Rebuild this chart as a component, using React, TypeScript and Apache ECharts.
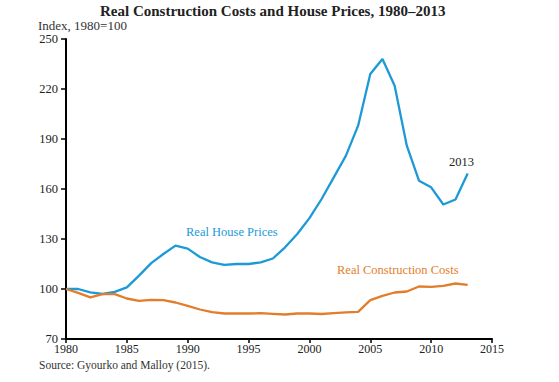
import React, { useEffect, useRef } from "react";
import * as echarts from "echarts";

const years = [1980,1981,1982,1983,1984,1985,1986,1987,1988,1989,1990,1991,1992,1993,1994,1995,1996,1997,1998,1999,2000,2001,2002,2003,2004,2005,2006,2007,2008,2009,2010,2011,2012,2013];
const housePrices = [100,100,98,97,98.3,101,108,115.5,121,126,124.2,119.2,116,114.5,115,115,116,118.3,125,133,142.5,154,167,180,198,229,238,222,186,165,161,150.7,153.7,169.3];
const constructionCosts = [100,97.7,95,96.9,96.9,94.3,92.9,93.5,93.3,91.9,89.9,87.7,86.1,85.3,85.3,85.3,85.5,85.1,84.7,85.3,85.3,85,85.5,86,86.3,93.3,95.9,97.9,98.5,101.5,101.3,101.9,103.3,102.5];
const yTicks = [70,100,130,160,190,220,250];

const BLUE = "#1c9ad6";
const ORANGE = "#e27d2c";
const FONT = "Liberation Serif";

export default function App() {
  const ref = useRef<HTMLDivElement>(null);
  useEffect(() => {
    if (!ref.current) return;
    const chart = echarts.init(ref.current, null, { renderer: "svg" });
    chart.setOption({
      animation: false,
      backgroundColor: "#ffffff",
      textStyle: { fontFamily: FONT },
      grid: { left: 66, right: 67, top: 39, bottom: 43, containLabel: false },
      xAxis: {
        type: "value",
        min: 1980,
        max: 2015,
        interval: 5,
        axisLine: { show: true, lineStyle: { color: "#000", width: 2 } },
        axisTick: { show: true, length: 4, lineStyle: { color: "#000", width: 1.5 } },
        axisLabel: { color: "#222", fontSize: 12, fontFamily: FONT, margin: 4, lineHeight: 12, formatter: (v: number) => String(v) },
        splitLine: { show: false },
      },
      yAxis: {
        type: "value",
        min: 70,
        max: 250,
        axisLine: { show: true, lineStyle: { color: "#000", width: 2 } },
        axisTick: { show: true, length: 5, customValues: yTicks, lineStyle: { color: "#000", width: 1.5 } },
        axisLabel: { color: "#222", fontSize: 12.5, fontFamily: FONT, margin: 8, customValues: yTicks },
        splitLine: { show: false },
      },
      series: [
        {
          type: "line",
          name: "Real House Prices",
          data: years.map((y, i) => [y, housePrices[i]]),
          showSymbol: false,
          lineStyle: { color: BLUE, width: 2.3 },
          itemStyle: { color: BLUE },
        },
        {
          type: "line",
          name: "Real Construction Costs",
          data: years.map((y, i) => [y, constructionCosts[i]]),
          showSymbol: false,
          lineStyle: { color: ORANGE, width: 2.3 },
          itemStyle: { color: ORANGE },
        },
      ],
      graphic: [
        { type: "text", x: 100, y: 10.5, style: { text: "Real Construction Costs and House Prices, 1980–2013", font: `bold 15px "${FONT}"`, fill: "#222", verticalAlign: "middle" } },
        { type: "text", x: 38, y: 25, style: { text: "Index, 1980=100", font: `13px "${FONT}"`, fill: "#333", verticalAlign: "middle" } },
        { type: "text", x: 39, y: 365, style: { text: "Source: Gyourko and Malloy (2015).", font: `11.5px "${FONT}"`, fill: "#333", verticalAlign: "middle" } },
        { type: "text", x: 186, y: 231.5, style: { text: "Real House Prices", font: `12.5px "${FONT}"`, fill: BLUE, verticalAlign: "middle" } },
        { type: "text", x: 337, y: 269.5, style: { text: "Real Construction Costs", font: `12.5px "${FONT}"`, fill: ORANGE, verticalAlign: "middle" } },
        { type: "text", x: 449, y: 162, style: { text: "2013", font: `12.5px "${FONT}"`, fill: "#222", verticalAlign: "middle" } },
      ],
    });
    return () => chart.dispose();
  }, []);
  return <div ref={ref} style={{ position: "fixed", left: 0, top: 0, width: 559, height: 382 }} />;
}
